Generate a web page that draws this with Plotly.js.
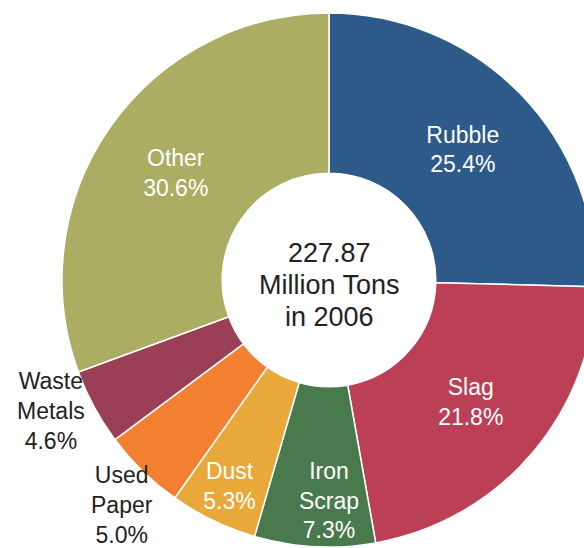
<!DOCTYPE html>
<html>
<head>
<meta charset="utf-8">
<script src="https://cdn.plot.ly/plotly-3.0.1.min.js"></script>
<style>
html,body{margin:0;padding:0;overflow:hidden;background:#fff;width:584px;height:548px;}
#chart{width:700px;height:700px;}
</style>
</head>
<body>
<div id="chart"></div>
<script>
var labels = ["Rubble", "Slag", "Iron<br>Scrap", "Dust", "Used<br>Paper", "Waste<br>Metals", "Other"];
var shares = [25.4, 21.8, 7.3, 5.3, 5.0, 4.6, 30.6];
var colors = ["#2E5A8A", "#BB4055", "#487A4E", "#E8A83A", "#F37F31", "#9A3F56", "#ABAD63"];
var outsideLabels = [false, false, false, false, true, true, false];
var centerLines = ["227.87", "Million Tons", "in 2006"];

var FONT = "Liberation Sans, Arial, sans-serif";
var LABEL_SIZE = 23;

// inside texts are placed by Plotly; outside labels are centred on the
// slice's mid-angle just beyond the rim, spread apart when too close
var positions = outsideLabels.map(function (o) { return o ? "none" : "inside"; });
var total = shares.reduce(function (a, b) { return a + b; }, 0);
var outs = [];
var cum = 0;
shares.forEach(function (v, i) {
  var mid = (cum + v / 2) / total * 360;
  cum += v;
  if (outsideLabels[i]) outs.push({i: i, ang: mid});
});
var minSep = 22;
for (var j = 1; j < outs.length; j++) {
  var gap = outs[j].ang - outs[j - 1].ang;
  if (gap < minSep) {
    var d = (minSep - gap) / 2;
    outs[j].ang += d;
    outs[j - 1].ang -= d;
  }
}

var annotations = [];
var lineGap = 32;
centerLines.forEach(function (t, i) {
  annotations.push({
    text: t,
    x: 0.5, y: 0.5, xref: "paper", yref: "paper",
    yshift: ((centerLines.length - 1) / 2 - i) * lineGap - 5,
    showarrow: false,
    font: {family: FONT, size: 27, color: "#222222"}
  });
});
var k = 1.16;
outs.forEach(function (o) {
  var a = o.ang * Math.PI / 180;
  annotations.push({
    text: labels[o.i] + "<br>" + (shares[o.i] / total * 100).toFixed(1) + "%",
    x: 0.5 + 0.5 * k * Math.sin(a),
    y: 0.5 + 0.5 * k * Math.cos(a),
    xref: "paper", yref: "paper",
    xanchor: "center", yanchor: "middle",
    yshift: 5,
    borderpad: 0,
    showarrow: false,
    font: {family: FONT, size: LABEL_SIZE, color: "#222222"}
  });
});

var trace = {
  type: "pie",
  labels: labels,
  values: shares,
  sort: false,
  direction: "clockwise",
  rotation: 0,
  hole: 0.4,
  marker: {colors: colors, line: {color: "#ffffff", width: 1.5}},
  texttemplate: "%{label}<br>%{percent:.1%}",
  textposition: positions,
  insidetextorientation: "horizontal",
  insidetextfont: {family: FONT, size: LABEL_SIZE, color: "#ffffff"},
  hoverinfo: "label+percent",
  showlegend: false
};

var layout = {
  width: 700,
  height: 700,
  margin: {l: 62, t: 13, r: 104, b: 153, pad: 0},
  paper_bgcolor: "#ffffff",
  showlegend: false,
  uniformtext: {mode: "show", minsize: LABEL_SIZE},
  annotations: annotations
};

Plotly.newPlot("chart", [trace], layout, {displayModeBar: false, staticPlot: true});
</script>
</body>
</html>
